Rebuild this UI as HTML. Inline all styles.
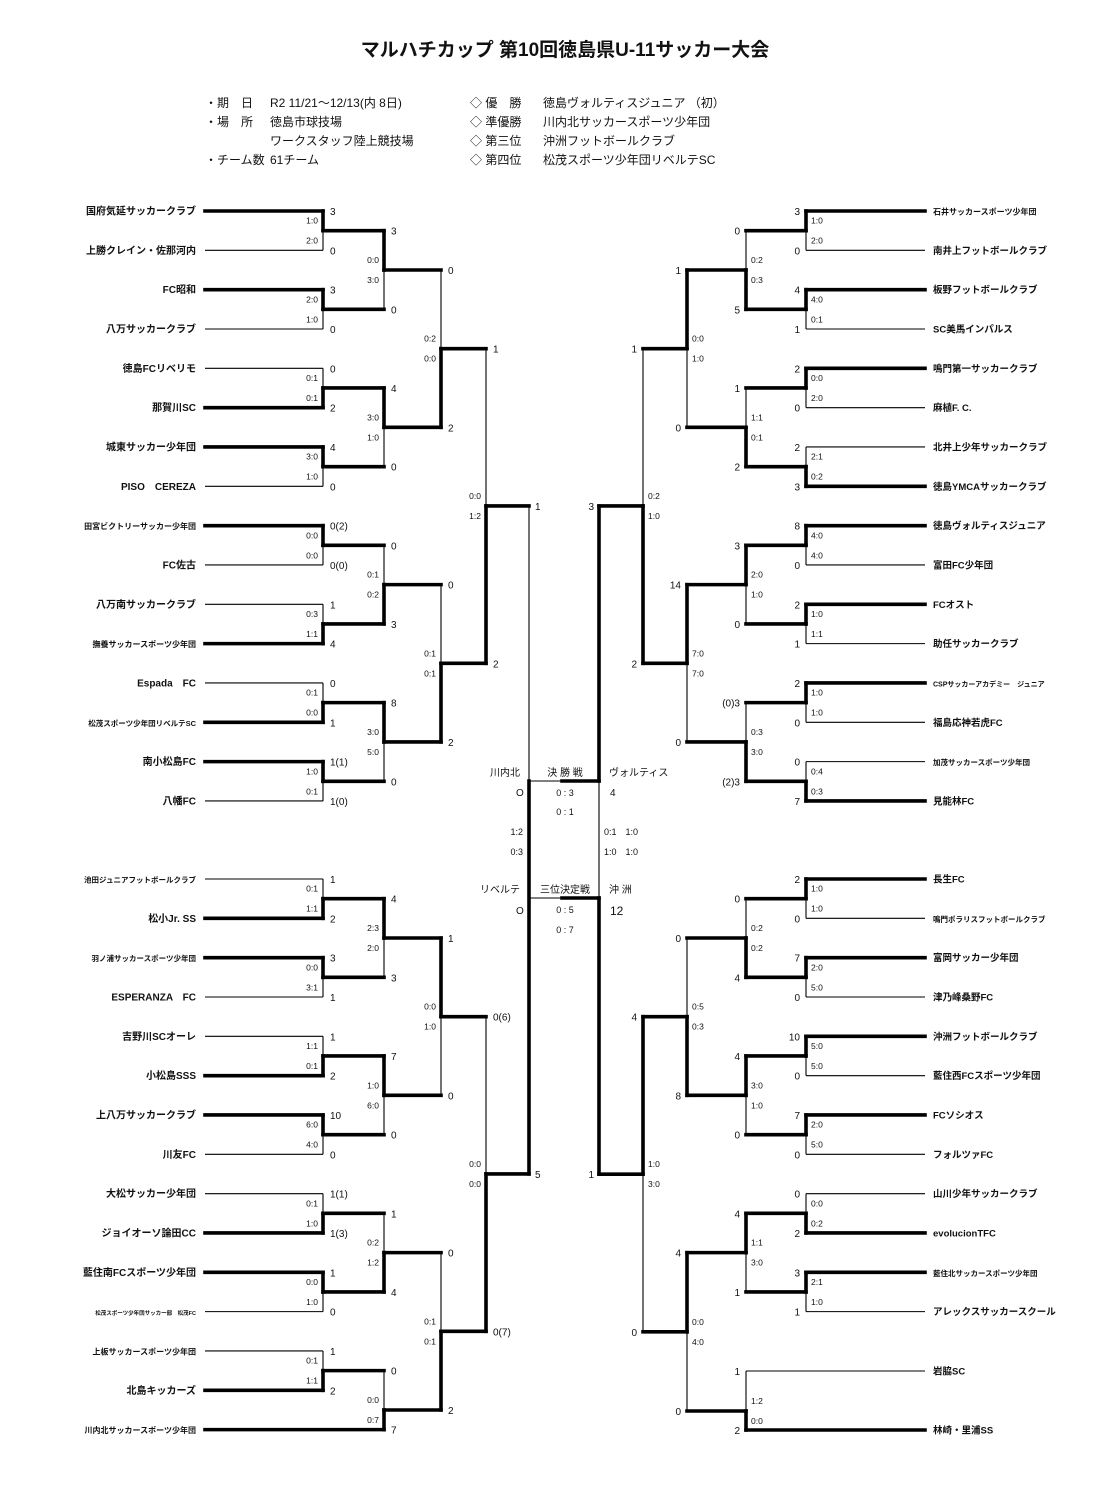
<!DOCTYPE html>
<html><head><meta charset="utf-8">
<style>
html,body{margin:0;padding:0;background:#fff;}
svg{display:block;}
text{font-family:"Liberation Sans","Noto Sans CJK JP",sans-serif;fill:#111;}
</style></head>
<body>
<svg id="s" width="1117" height="1507" viewBox="0 0 1117 1507" xmlns="http://www.w3.org/2000/svg">
<text x="565" y="56" text-anchor="middle" font-size="19" font-weight="bold">マルハチカップ 第10回徳島県U-11サッカー大会</text>
<g font-size="12">
<text x="205" y="107">・期　日</text><text x="270" y="107">R2 11/21～12/13(内 8日)</text>
<text x="205" y="126">・場　所</text><text x="270" y="126">徳島市球技場</text>
<text x="270" y="145">ワークスタッフ陸上競技場</text>
<text x="205" y="164">・チーム数</text><text x="270" y="164">61チーム</text>
<text x="470" y="107">◇ 優　勝</text><text x="543" y="107">徳島ヴォルティスジュニア （初）</text>
<text x="470" y="126">◇ 準優勝</text><text x="543" y="126">川内北サッカースポーツ少年団</text>
<text x="470" y="145">◇ 第三位</text><text x="543" y="145">沖洲フットボールクラブ</text>
<text x="470" y="164">◇ 第四位</text><text x="543" y="164">松茂スポーツ少年団リベルテSC</text>
</g>
<g font-size="10">
<text x="520" y="776" text-anchor="end">川内北</text><text x="516" y="796">O</text>
<text x="565" y="776" text-anchor="middle">決 勝 戦</text>
<text x="565" y="796" text-anchor="middle" font-size="9">0 : 3</text>
<text x="565" y="815" text-anchor="middle" font-size="9">0 : 1</text>
<text x="609" y="776">ヴォルティス</text><text x="610" y="796">4</text>
<text x="523" y="835" text-anchor="end" font-size="9">1:2</text>
<text x="523" y="855" text-anchor="end" font-size="9">0:3</text>
<text x="604" y="835" font-size="9">0:1　1:0</text>
<text x="604" y="855" font-size="9">1:0　1:0</text>
<text x="520" y="893" text-anchor="end">リベルテ</text><text x="516" y="914">O</text>
<text x="565" y="893" text-anchor="middle">三位決定戦</text>
<text x="565" y="913" text-anchor="middle" font-size="9">0 : 5</text>
<text x="565" y="933" text-anchor="middle" font-size="9">0 : 7</text>
<text x="609" y="893">沖 洲</text><text x="610" y="915" font-size="12">12</text>
</g>
</svg>
<script>
const S=document.getElementById('s'),NS='http://www.w3.org/2000/svg';
const TH=3.6,TN=1.1;
function ln(x1,y1,x2,y2,t){const e=document.createElementNS(NS,'line');e.setAttribute('x1',x1);e.setAttribute('y1',y1);e.setAttribute('x2',x2);e.setAttribute('y2',y2);e.setAttribute('stroke','#000');e.setAttribute('stroke-width',t?TH:TN);if(t)e.setAttribute('stroke-linecap','square');S.appendChild(e);}
function tx(x,y,s,a,sz,w){const e=document.createElementNS(NS,'text');e.setAttribute('x',x);e.setAttribute('y',y);e.setAttribute('text-anchor',a||'start');e.setAttribute('font-size',sz||10);if(w)e.setAttribute('font-weight','bold');e.textContent=s;S.appendChild(e);}
function M(side,xv,xn,yt,yb,ym,win,sc,pr){
 ln(xv,yt,xv,yb,0);
 if(win==0)ln(xv,yt,xv,ym,1);else ln(xv,ym,xv,yb,1);
 ln(xv,ym,xn,ym,1);
 if(side=='L'){tx(xv+7,yt+4,sc[0]);tx(xv+7,yb+4,sc[1]);tx(xv-5,ym-7,pr[0],'end',8.5);tx(xv-5,ym+13,pr[1],'end',8.5);}
 else{tx(xv-6,yt+4,sc[0],'end');tx(xv-6,yb+4,sc[1],'end');tx(xv+5,ym-7,pr[0],'start',8.5);tx(xv+5,ym+13,pr[1],'start',8.5);}
}
const yT=i=>211+i*39.33, yB=i=>879+i*39.33;
function teams(side,list,yf,thick,ends){
 list.forEach((t,i)=>{const y=yf(i);const th=thick.includes(i);
  if(side=='L'){ln(205,y,ends&&ends[i]?ends[i]:323,y,th);tx(196,y+3.5,t[0],'end',t[1],1);}
  else{ln(925,y,ends&&ends[i]?ends[i]:806,y,th);tx(933,y+3.5,t[0],'start',t[1]==10?9.5:t[1],1);}
 });
}
function rounds(side,yf,n,r1x,r1n,wins,sc,pr){
 for(let k=0;k<n;k++){const a=yf(2*k),b=yf(2*k+1);M(side,r1x,r1n,a,b,(a+b)/2,wins[k],sc[k],pr[k]);}
}
teams('L',[["国府気延サッカークラブ",10],["上勝クレイン・佐那河内",10],["FC昭和",10],["八万サッカークラブ",10],["徳島FCリベリモ",10],["那賀川SC",10],["城東サッカー少年団",10],["PISO　CEREZA",10],["田宮ビクトリーサッカー少年団",8],["FC佐古",10],["八万南サッカークラブ",10],["撫養サッカースポーツ少年団",8],["Espada　FC",10],["松茂スポーツ少年団リベルテSC",7.5],["南小松島FC",10],["八幡FC",10]],yT,[0,2,5,6,8,11,13,14]);
rounds('L',yT,8,323,384,[0,0,1,0,0,1,1,0],[["3","0"],["3","0"],["0","2"],["4","0"],["0(2)","0(0)"],["1","4"],["0","1"],["1(1)","1(0)"]],[["1:0","2:0"],["2:0","1:0"],["0:1","0:1"],["3:0","1:0"],["0:0","0:0"],["0:3","1:1"],["0:1","0:0"],["1:0","0:1"]]);
{const m=k=>(yT(2*k)+yT(2*k+1))/2;
 const r2=[[0,0,["3","0"],["0:0","3:0"]],[1,0,["4","0"],["3:0","1:0"]],[2,1,["0","3"],["0:1","0:2"]],[3,0,["8","0"],["3:0","5:0"]]];
 r2.forEach(r=>{const a=m(2*r[0]),b=m(2*r[0]+1);M('L',384,441,a,b,(a+b)/2,r[1],r[2],r[3]);});
 const q=j=>(m(2*j)+m(2*j+1))/2;
 M('L',441,486,q(0),q(1),(q(0)+q(1))/2,1,["0","2"],["0:2","0:0"]);
 M('L',441,486,q(2),q(3),(q(2)+q(3))/2,1,["0","2"],["0:1","0:1"]);
 const h0=(q(0)+q(1))/2,h1=(q(2)+q(3))/2;
 M('L',486,529,h0,h1,(h0+h1)/2,1,["1","2"],["0:0","1:2"]);
}
teams('R',[["石井サッカースポーツ少年団",8],["南井上フットボールクラブ",10],["板野フットボールクラブ",10],["SC美馬インパルス",10],["鳴門第一サッカークラブ",10],["麻植F. C.",10],["北井上少年サッカークラブ",10],["徳島YMCAサッカークラブ",10],["徳島ヴォルティスジュニア",10],["富田FC少年団",10],["FCオスト",10],["助任サッカークラブ",10],["CSPサッカーアカデミー　ジュニア",7],["福島応神若虎FC",10],["加茂サッカースポーツ少年団",7.5],["見能林FC",10]],yT,[0,2,4,7,8,10,12,15]);
rounds('R',yT,8,806,746,[0,0,0,1,0,0,0,1],[["3","0"],["4","1"],["2","0"],["2","3"],["8","0"],["2","1"],["2","0"],["0","7"]],[["1:0","2:0"],["4:0","0:1"],["0:0","2:0"],["2:1","0:2"],["4:0","4:0"],["1:0","1:1"],["1:0","1:0"],["0:4","0:3"]]);
{const m=k=>(yT(2*k)+yT(2*k+1))/2;
 const r2=[[0,1,["0","5"],["0:2","0:3"]],[1,1,["1","2"],["1:1","0:1"]],[2,0,["3","0"],["2:0","1:0"]],[3,1,["(0)3","(2)3"],["0:3","3:0"]]];
 r2.forEach(r=>{const a=m(2*r[0]),b=m(2*r[0]+1);M('R',746,687,a,b,(a+b)/2,r[1],r[2],r[3]);});
 const q=j=>(m(2*j)+m(2*j+1))/2;
 M('R',687,643,q(0),q(1),(q(0)+q(1))/2,0,["1","0"],["0:0","1:0"]);
 M('R',687,643,q(2),q(3),(q(2)+q(3))/2,0,["14","0"],["7:0","7:0"]);
 const h0=(q(0)+q(1))/2,h1=(q(2)+q(3))/2;
 M('R',643,599,h0,h1,(h0+h1)/2,1,["1","2"],["0:2","1:0"]);
}
teams('L',[["池田ジュニアフットボールクラブ",7.5],["松小Jr. SS",10],["羽ノ浦サッカースポーツ少年団",7.5],["ESPERANZA　FC",10],["吉野川SCオーレ",10],["小松島SSS",10],["上八万サッカークラブ",10],["川友FC",10],["大松サッカー少年団",10],["ジョイオーソ論田CC",10],["藍住南FCスポーツ少年団",10],["松茂スポーツ少年団サッカー部　松茂FC",5.5],["上板サッカースポーツ少年団",8],["北島キッカーズ",10],["川内北サッカースポーツ少年団",8]],yB,[1,2,5,6,9,10,13,14],{14:384});
rounds('L',yB,7,323,384,[1,0,1,0,1,0,1],[["1","2"],["3","1"],["1","2"],["10","0"],["1(1)","1(3)"],["1","0"],["1","2"]],[["0:1","1:1"],["0:0","3:1"],["1:1","0:1"],["6:0","4:0"],["0:1","1:0"],["0:0","1:0"],["0:1","1:1"]]);
{const m=k=>(yB(2*k)+yB(2*k+1))/2;
 M('L',384,441,m(0),m(1),(m(0)+m(1))/2,0,["4","3"],["2:3","2:0"]);
 M('L',384,441,m(2),m(3),(m(2)+m(3))/2,0,["7","0"],["1:0","6:0"]);
 M('L',384,441,m(4),m(5),(m(4)+m(5))/2,1,["1","4"],["0:2","1:2"]);
 M('L',384,441,m(6),yB(14),1410,1,["0","7"],["0:0","0:7"]);
 const a=(m(0)+m(1))/2,b=(m(2)+m(3))/2,c=(m(4)+m(5))/2,d=1410;
 M('L',441,486,a,b,(a+b)/2,0,["1","0"],["0:0","1:0"]);
 M('L',441,486,c,d,(c+d)/2,1,["0","2"],["0:1","0:1"]);
 const h0=(a+b)/2,h1=(c+d)/2;
 M('L',486,529,h0,h1,(h0+h1)/2,1,["0(6)","0(7)"],["0:0","0:0"]);
}
teams('R',[["長生FC",10],["鳴門ポラリスフットボールクラブ",7.5],["富岡サッカー少年団",10],["津乃峰桑野FC",10],["沖洲フットボールクラブ",10],["藍住西FCスポーツ少年団",10],["FCソシオス",10],["フォルツァFC",10],["山川少年サッカークラブ",10],["evolucionTFC",10],["藍住北サッカースポーツ少年団",7.5],["アレックスサッカースクール",10]],yB,[0,2,4,6,9,10]);
ln(925,1371,746,1371,0);tx(933,1374.5,"岩脇SC","start",9.5,1);
ln(925,1430,746,1430,1);tx(933,1433.5,"林崎・里浦SS","start",9.5,1);
rounds('R',yB,6,806,746,[0,0,0,0,1,0],[["2","0"],["7","0"],["10","0"],["7","0"],["0","2"],["3","1"]],[["1:0","1:0"],["2:0","5:0"],["5:0","5:0"],["2:0","5:0"],["0:0","0:2"],["2:1","1:0"]]);
{const m=k=>(yB(2*k)+yB(2*k+1))/2;
 M('R',746,687,m(0),m(1),(m(0)+m(1))/2,1,["0","4"],["0:2","0:2"]);
 M('R',746,687,m(2),m(3),(m(2)+m(3))/2,0,["4","0"],["3:0","1:0"]);
 M('R',746,687,m(4),m(5),(m(4)+m(5))/2,0,["4","1"],["1:1","3:0"]);
 M('R',746,687,1371,1430,1411,1,["1","2"],["1:2","0:0"]);
 const a=(m(0)+m(1))/2,b=(m(2)+m(3))/2,c=(m(4)+m(5))/2,d=1411;
 M('R',687,643,a,b,(a+b)/2,1,["0","8"],["0:5","0:3"]);
 M('R',687,643,c,d,(c+d)/2,0,["4","0"],["0:0","4:0"]);
 const h0=(a+b)/2,h1=(c+d)/2;
 M('R',643,599,h0,h1,(h0+h1)/2,0,["4","0"],["1:0","3:0"]);
}
ln(529,506,529,781,0);ln(529,781,529,1174,1);
ln(599,506,599,781,1);ln(599,781,599,898,0);ln(599,898,599,1174,1);
ln(529,781,562,781,0);ln(562,781,599,781,1);
ln(529,898,562,898,0);ln(562,898,599,898,1);
tx(535,510,"1");tx(535,1178,"5");tx(594,510,"3","end");tx(594,1178,"1","end");
</script>
</body></html>
